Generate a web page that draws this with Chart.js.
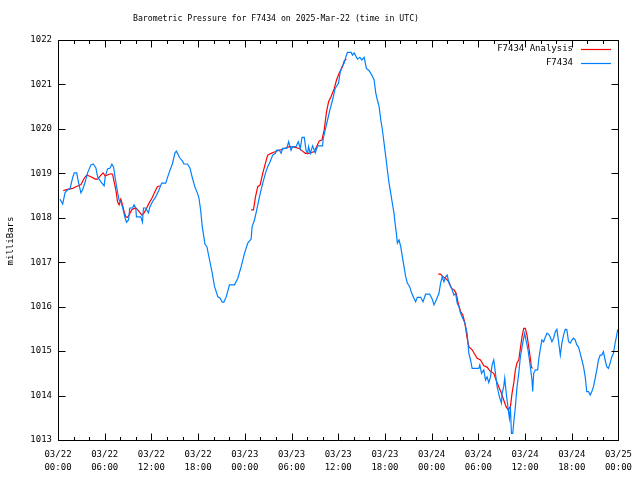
<!DOCTYPE html>
<html>
<head>
<meta charset="utf-8">
<script src="https://cdn.jsdelivr.net/npm/chart.js@4.4.1/dist/chart.umd.min.js"></script>
<style>
  html, body { margin: 0; padding: 0; background: #fff; }
  #wrap { width: 640px; height: 480px; }
</style>
</head>
<body>
<div id="wrap"><canvas id="pressureChart" width="640" height="480"></canvas></div>
<script>
// time axis in hours from 03/22 00:00 UTC
const yTicks = [1013, 1014, 1015, 1016, 1017, 1018, 1019, 1020, 1021, 1022];
const xTickDays = ['03/22', '03/23', '03/24', '03/25'];

// observed pressure (F7434)
const obsHours = [0.26,0.60,0.90,1.24,1.54,1.88,2.09,2.40,2.65,2.95,3.16,3.50,3.80,4.23,4.52,4.87,5.09,5.51,5.93,6.06,6.37,6.70,6.92,7.14,7.34,7.65,7.85,8.07,8.29,8.58,8.80,9.06,9.22,9.57,9.77,9.99,10.08,10.63,10.85,10.98,11.27,11.62,11.79,12.13,12.55,12.98,13.32,13.84,14.26,14.69,15.03,15.21,15.63,15.98,16.18,16.62,16.95,17.26,17.59,17.90,18.10,18.32,18.54,18.74,18.87,19.13,19.47,19.82,20.11,20.54,20.84,21.10,21.30,21.61,22.03,22.67,23.10,23.53,23.96,24.38,24.81,24.94,25.24,25.53,25.88,26.30,26.65,26.94,27.25,27.58,27.93,28.09,28.44,28.66,28.86,29.38,29.63,29.94,30.14,30.58,30.87,31.13,31.35,31.64,31.86,32.07,32.19,32.41,32.71,33.05,33.35,33.99,34.08,34.33,34.63,34.93,35.27,35.61,36.04,36.22,36.47,36.77,36.98,37.19,37.66,37.83,38.05,38.47,38.78,39.03,39.33,39.62,39.97,40.31,40.61,40.83,41.03,41.25,41.47,41.67,41.89,42.11,42.31,42.53,42.75,42.95,43.17,43.30,43.47,43.60,43.81,44.03,44.24,44.45,44.67,44.88,45.18,45.44,45.73,45.95,46.16,46.59,46.89,47.23,47.75,48.08,48.30,48.59,48.94,49.15,49.36,49.58,49.79,50.00,50.22,50.64,50.86,51.08,51.28,51.50,51.72,51.92,52.27,52.56,52.78,53.00,53.20,54.06,54.19,54.41,54.70,54.92,55.12,55.34,55.56,55.77,55.98,56.20,56.41,56.71,56.97,57.05,57.26,57.39,57.56,57.82,57.99,58.12,58.25,58.42,58.58,58.76,58.97,59.19,59.40,59.70,59.95,60.12,60.38,60.68,60.89,60.98,61.11,61.32,61.62,61.75,61.97,62.17,62.39,62.61,62.81,63.03,63.25,63.45,63.67,63.89,64.09,64.31,64.53,64.73,64.95,65.17,65.37,65.59,65.81,66.01,66.23,66.45,66.65,66.87,67.09,67.30,67.51,67.73,67.93,68.15,68.37,68.58,68.79,69.01,69.22,69.43,69.65,69.86,70.07,70.29,70.50,70.71,70.93,71.14,71.36,71.57,71.78,71.91];
const obsValues = [1018.42,1018.31,1018.56,1018.63,1018.65,1018.90,1019.01,1019.01,1018.78,1018.56,1018.63,1018.81,1019.01,1019.19,1019.21,1019.12,1018.92,1018.81,1018.72,1018.92,1019.10,1019.12,1019.21,1019.14,1018.90,1018.58,1018.40,1018.36,1018.24,1018.02,1017.90,1017.95,1018.22,1018.22,1018.29,1018.22,1018.02,1018.02,1017.90,1018.22,1018.22,1018.11,1018.24,1018.36,1018.47,1018.63,1018.78,1018.78,1019.01,1019.21,1019.46,1019.50,1019.35,1019.28,1019.21,1019.21,1019.12,1018.90,1018.69,1018.56,1018.45,1018.18,1017.79,1017.57,1017.41,1017.35,1017.05,1016.75,1016.45,1016.22,1016.19,1016.10,1016.10,1016.22,1016.49,1016.49,1016.64,1016.90,1017.20,1017.43,1017.52,1017.80,1017.95,1018.18,1018.47,1018.78,1019.00,1019.15,1019.26,1019.41,1019.45,1019.52,1019.52,1019.45,1019.56,1019.56,1019.71,1019.52,1019.60,1019.60,1019.71,1019.56,1019.81,1019.81,1019.52,1019.45,1019.60,1019.45,1019.62,1019.46,1019.62,1019.62,1019.79,1019.98,1020.20,1020.43,1020.65,1020.91,1021.03,1021.25,1021.40,1021.48,1021.62,1021.72,1021.72,1021.66,1021.71,1021.57,1021.61,1021.55,1021.61,1021.36,1021.31,1021.21,1021.10,1020.80,1020.65,1020.50,1020.20,1019.98,1019.68,1019.37,1019.08,1018.78,1018.55,1018.33,1018.10,1017.88,1017.65,1017.43,1017.50,1017.35,1017.12,1016.90,1016.67,1016.53,1016.45,1016.30,1016.19,1016.11,1016.21,1016.21,1016.11,1016.28,1016.28,1016.17,1016.04,1016.15,1016.30,1016.53,1016.67,1016.56,1016.67,1016.71,1016.53,1016.38,1016.26,1016.30,1016.08,1016.00,1015.85,1015.77,1015.63,1015.40,1014.95,1014.80,1014.61,1014.61,1014.69,1014.50,1014.58,1014.35,1014.42,1014.29,1014.42,1014.69,1014.80,1014.50,1014.20,1013.97,1013.83,1014.05,1014.20,1014.39,1014.09,1013.71,1013.49,1013.75,1013.15,1013.15,1013.45,1013.75,1014.20,1014.50,1014.87,1015.18,1015.40,1015.25,1015.03,1014.65,1014.35,1014.09,1014.50,1014.58,1014.58,1014.80,1015.06,1015.25,1015.21,1015.32,1015.40,1015.38,1015.31,1015.21,1015.29,1015.44,1015.49,1015.21,1014.91,1015.18,1015.36,1015.49,1015.48,1015.21,1015.18,1015.25,1015.29,1015.25,1015.14,1015.09,1014.95,1014.80,1014.65,1014.42,1014.09,1014.09,1014.01,1014.09,1014.20,1014.39,1014.58,1014.80,1014.91,1014.91,1014.99,1014.80,1014.65,1014.61,1014.73,1014.87,1014.95,1015.18,1015.36,1015.49];

// analysis runs (F7434 Analysis), three separate pieces
const anaHours1 = [0.68,1.24,1.88,2.31,2.95,3.37,3.68,4.01,4.36,4.78,5.09,5.51,5.80,6.06,6.57,6.79,7.01,7.21,7.43,7.65,7.85,8.07,8.29,8.49,8.71,8.93,9.13,9.48,9.77,10.08,10.42,10.76,11.06,11.36,11.70,12.13,12.46,12.77,13.07];
const anaValues1 = [1018.61,1018.64,1018.66,1018.70,1018.75,1018.89,1018.96,1018.94,1018.91,1018.87,1018.87,1018.96,1019.01,1018.94,1018.98,1018.99,1018.98,1018.81,1018.63,1018.36,1018.29,1018.42,1018.29,1018.14,1018.02,1018.01,1018.06,1018.18,1018.21,1018.21,1018.14,1018.06,1018.11,1018.21,1018.33,1018.46,1018.59,1018.70,1018.72];
const anaHours2 = [24.81,25.11,25.37,25.66,25.97,26.30,26.65,26.94,27.38,27.80,28.44,29.08,29.72,30.36,31.00,31.42,31.77,32.28,32.92,33.22,33.56,33.91,34.20,34.50,34.76,35.06,35.49,35.78,36.13,36.55,36.77,37.06];
const anaValues2 = [1018.18,1018.18,1018.47,1018.70,1018.74,1019.00,1019.23,1019.41,1019.45,1019.48,1019.52,1019.56,1019.60,1019.59,1019.56,1019.50,1019.45,1019.45,1019.49,1019.60,1019.73,1019.75,1019.98,1020.39,1020.61,1020.72,1020.91,1021.10,1021.26,1021.40,1021.53,1021.57];
const anaHours3 = [48.85,49.15,49.45,49.80,50.22,50.56,50.86,51.15,51.41,51.72,52.01,52.27,52.56,52.78,53.20,53.84,54.28,54.70,55.12,55.56,55.98,56.28,56.62,56.97,57.26,57.56,57.82,58.12,58.33,58.55,58.76,58.97,59.19,59.40,59.61,59.83,60.04,60.25,60.47,60.68,60.81,60.98];
const anaValues3 = [1016.73,1016.73,1016.67,1016.64,1016.56,1016.41,1016.38,1016.30,1016.08,1015.89,1015.81,1015.63,1015.29,1015.10,1015.03,1014.84,1014.80,1014.67,1014.64,1014.54,1014.50,1014.35,1014.20,1014.05,1013.90,1013.75,1013.68,1013.75,1014.05,1014.28,1014.58,1014.74,1014.80,1015.06,1015.32,1015.51,1015.51,1015.36,1015.10,1014.84,1014.64,1014.61];

const FONT = '"DejaVu Sans Mono", "Liberation Mono", monospace';
const RED = '#ff0000';
const BLUE = '#0080ff';

function toPoints(hours, values) {
    return hours.map((h, i) => ({ x: h, y: values[i] }));
}

// analysis pieces joined with a null so the line breaks between them
const anaPoints = [].concat(
    toPoints(anaHours1, anaValues1), [{ x: 18, y: null }],
    toPoints(anaHours2, anaValues2), [{ x: 43, y: null }],
    toPoints(anaHours3, anaValues3)
);

// border, inward ticks (gnuplot style), title, y label and legend
const gnuplotFrame = {
    id: 'gnuplotFrame',
    afterDraw(chart) {
        const ctx = chart.ctx;
        const a = chart.chartArea;
        const xs = chart.scales.x;
        const ys = chart.scales.y;
        ctx.save();
        ctx.strokeStyle = '#000';
        ctx.lineWidth = 1;
        ctx.beginPath();
        const L = Math.round(a.left) + 0.5, R = Math.round(a.right) + 0.5;
        const T = Math.round(a.top) + 0.5, B = Math.round(a.bottom) + 0.5;
        ctx.rect(L, T, R - L, B - T);
        yTicks.forEach(v => {
            const y = Math.round(ys.getPixelForValue(v)) + 0.5;
            ctx.moveTo(L, y); ctx.lineTo(L + 7, y);
            ctx.moveTo(R, y); ctx.lineTo(R - 7, y);
        });
        for (let h = 0; h <= 72; h += 2) {
            const x = Math.round(xs.getPixelForValue(h)) + 0.5;
            const len = (h % 6 === 0) ? 7 : 3.5;
            ctx.moveTo(x, B); ctx.lineTo(x, B - len);
            ctx.moveTo(x, T); ctx.lineTo(x, T + len);
        }
        ctx.stroke();

        ctx.fillStyle = '#000';
        ctx.font = '9px ' + FONT;
        ctx.textAlign = 'center';
        ctx.textBaseline = 'middle';
        ctx.fillText('Barometric Pressure for F7434 on 2025-Mar-22 (time in UTC)', 276, 19, 286);

        ctx.save();
        ctx.translate(11, 241);
        ctx.rotate(-Math.PI / 2);
        ctx.fillText('milliBars', 0, 0);
        ctx.restore();

        // legend
        ctx.textAlign = 'right';
        const swatch = [RED, BLUE];
        chart.data.datasets.forEach((ds, i) => {
            const y = 49 + i * 14;
            ctx.fillStyle = '#000';
            ctx.fillText(ds.label, 573, y);
            ctx.strokeStyle = swatch[i];
            ctx.lineWidth = 1.2;
            ctx.beginPath();
            ctx.moveTo(581, Math.round(y) + 0.5);
            ctx.lineTo(611, Math.round(y) + 0.5);
            ctx.stroke();
        });
        ctx.restore();
    }
};

const ctx = document.getElementById('pressureChart').getContext('2d');
const pressureChart = new Chart(ctx, {
    type: 'line',
    data: {
        datasets: [
            {
                label: 'F7434 Analysis',
                data: anaPoints,
                borderColor: RED,
                borderWidth: 1.2,
                pointRadius: 0,
                spanGaps: false,
                order: 1
            },
            {
                label: 'F7434',
                data: toPoints(obsHours, obsValues),
                borderColor: BLUE,
                borderWidth: 1.2,
                pointRadius: 0,
                order: 0
            }
        ]
    },
    options: {
        responsive: false,
        animation: false,
        layout: { padding: { top: 40, right: 20, left: 0, bottom: 0 } },
        plugins: {
            legend: { display: false },
            tooltip: { enabled: false }
        },
        scales: {
            x: {
                type: 'linear',
                min: 0,
                max: 72,
                grid: { display: false, drawTicks: false },
                border: { display: false },
                afterFit: s => { s.height = 40; },
                ticks: {
                    stepSize: 6,
                    autoSkip: false,
                    maxRotation: 0,
                    padding: 8,
                    color: '#000',
                    font: { family: FONT, size: 9, lineHeight: 1.45 },
                    callback: v => {
                        const day = xTickDays[Math.floor(v / 24)];
                        const hr = String(v % 24).padStart(2, '0');
                        return [day, hr + ':00'];
                    }
                }
            },
            y: {
                min: 1013,
                max: 1022,
                grid: { display: false, drawTicks: false },
                border: { display: false },
                afterFit: s => { s.width = 58; },
                afterBuildTicks: s => { s.ticks = yTicks.map(v => ({ value: v })); },
                ticks: {
                    padding: 6,
                    color: '#000',
                    font: { family: FONT, size: 9 },
                    callback: v => String(v)
                }
            }
        }
    },
    plugins: [gnuplotFrame]
});
</script>
</body>
</html>
